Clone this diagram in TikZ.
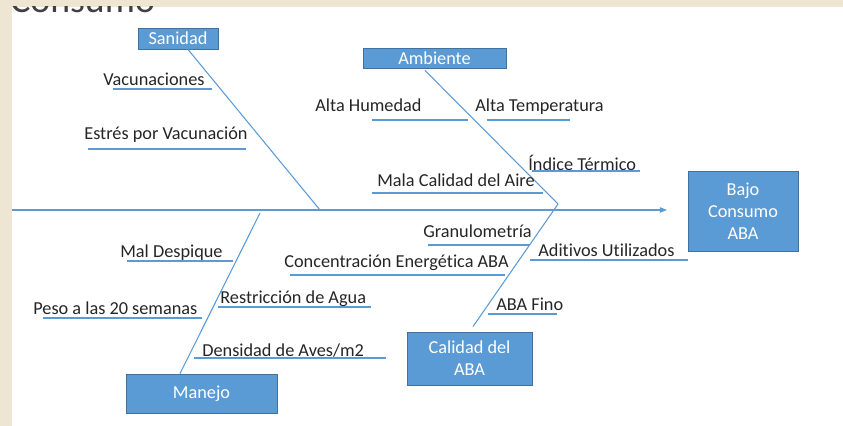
\documentclass[tikz,border=0pt]{standalone}
\usepackage{fontspec}
\setmainfont{Carlito}[Ligatures=NoCommon]
\usetikzlibrary{arrows.meta}
\definecolor{espina}{HTML}{5B9BD5}
\definecolor{bordecaja}{HTML}{41719C}
\definecolor{fondo}{RGB}{239,229,211}
\newcommand{\causafont}{\fontsize{10.4}{12.6}\selectfont}

\begin{document}
\begin{tikzpicture}[x=0.02cm,y=-0.02cm,
  hueso/.style={draw=espina,line width=0.6pt},
  subraya/.style={draw=espina,line width=0.6pt},
  caja/.style={rectangle,draw=bordecaja,fill=espina,line width=0.5pt,text=white,font=\causafont,align=center,inner sep=0pt},
  causa/.style={font=\causafont,text=black!85,inner sep=0pt,anchor=base west}]
\useasboundingbox (0,0) rectangle (843,426);
\fill[fondo] (0,0) rectangle (843,426);
\fill[white] (12,7) rectangle (843,426);
\begin{scope}
\clip (12,6) rectangle (843,14);
\node[font=\fontsize{21.5}{24}\selectfont,text=black!75,inner sep=0pt,anchor=base west] (titulo) at (10,12) {Consumo};
\end{scope}

% categorias
\node[caja,minimum width=1.6cm,minimum height=0.42cm] (sanidad) at (178,38.5) {Sanidad};
\node[caja,minimum width=2.86cm,minimum height=0.4cm] (ambiente) at (434.5,58) {Ambiente};
\node[caja,minimum width=2.5cm,minimum height=1.06cm] (calidad) at (469.5,358.5) {Calidad del\\ABA};
\node[caja,minimum width=3.02cm,minimum height=0.78cm] (manejo) at (201.5,393.5) {Manejo};
\node[caja,minimum width=2.2cm,minimum height=1.6cm] (efecto) at (743,211) {Bajo\\Consumo\\ABA};

% espina
\coordinate (cola) at (12,210);
\coordinate (punta) at (667,210);
\coordinate (vertice) at (558,204);
\coordinate (sanPunta) at (320,210);
\coordinate (manPunta) at (260,213);
\draw[hueso,-{Triangle[length=4pt,width=3pt]}] (cola) -- (punta);
\draw[hueso] ([xshift=0.2cm]sanidad.south) -- (sanPunta);
\draw[hueso] ([xshift=-0.19cm,yshift=-0.04cm]ambiente.south) -- (vertice);
\draw[hueso] ([xshift=0.07cm,yshift=0.1cm]calidad.north) -- (vertice);
\draw[hueso] ([xshift=-0.43cm]manejo.north) -- (manPunta);

% Sanidad
\node[causa] (vacun) at (103,85) {Vacunaciones};
\draw[subraya] (113,89) -- (212,89);
\node[causa] (estres) at (84,139) {Estrés por Vacunación};
\draw[subraya] (88,149) -- (246,149);

% Ambiente
\node[causa] (humedad) at (315,112) {Alta Humedad};
\draw[subraya] (372,120) -- (468,120);
\node[causa] (temperatura) at (475,112) {Alta Temperatura};
\draw[subraya] (487,120) -- (570,120);
\node[causa] (indice) at (528,170) {Índice Térmico};
\draw[subraya] (532,171) -- (640,171);
\node[causa] (aire) at (377,186) {Mala Calidad del Aire};
\draw[subraya] (372,193) -- (543,193);

% Calidad del ABA
\node[causa] (granulo) at (423,237) {Granulometría};
\draw[subraya] (428,245) -- (530,245);
\node[causa] (energia) at (284,267) {Concentración Energética ABA};
\draw[subraya] (290,275) -- (505,275);
\node[causa] (aditivos) at (538,256) {Aditivos Utilizados};
\draw[subraya] (530,260) -- (688,260);
\node[causa] (fino) at (496,310) {ABA Fino};
\draw[subraya] (488,314) -- (557,314);

% Manejo
\node[causa] (despique) at (120,257) {Mal Despique};
\draw[subraya] (127,261) -- (233,261);
\node[causa] (peso) at (33,314) {Peso a las 20 semanas};
\draw[subraya] (43,318) -- (202,318);
\node[causa] (agua) at (220,303) {Restricción de Agua};
\draw[subraya] (218,307) -- (371,307);
\node[causa] (densidad) at (202,356) {Densidad de Aves/m2};
\draw[subraya] (194,358) -- (386,358);

\end{tikzpicture}
\end{document}
